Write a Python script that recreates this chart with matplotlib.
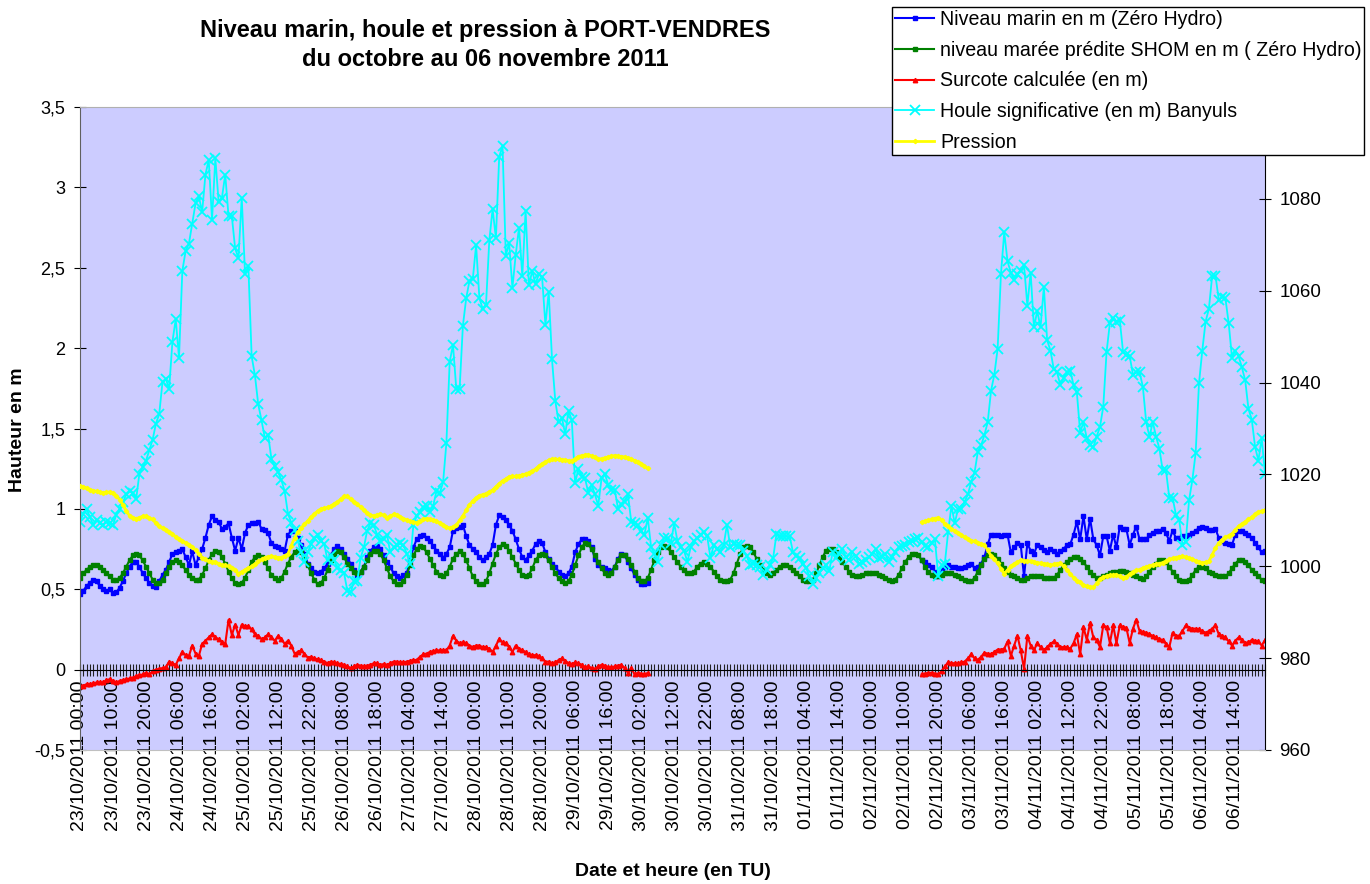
import numpy as np
import pandas as pd
import matplotlib
matplotlib.use("Agg")
import matplotlib.pyplot as plt
from matplotlib.ticker import FuncFormatter

plt.rcParams['font.family'] = ['Liberation Sans', 'DejaVu Sans']

# heures du 23/10/2011 00:00 au 06/11/2011 23:00 (pas horaire)
heures = pd.date_range("2011-10-23 00:00", periods=360, freq="h")
etiquettes = [h.strftime("%d/%m/%Y %H:%M") for h in heures]

# maree predite SHOM (m, zero hydro)
maree = [
    0.57, 0.60, 0.62, 0.64, 0.65, 0.65, 0.64, 0.62, 0.60, 0.58,
    0.56, 0.56, 0.57, 0.60, 0.64, 0.68, 0.71, 0.72, 0.71, 0.68,
    0.64, 0.60, 0.56, 0.54, 0.54, 0.56, 0.60, 0.64, 0.67, 0.68,
    0.67, 0.65, 0.62, 0.59, 0.57, 0.56, 0.56, 0.59, 0.63, 0.68,
    0.72, 0.74, 0.73, 0.70, 0.66, 0.61, 0.57, 0.54, 0.53, 0.54,
    0.57, 0.62, 0.67, 0.70, 0.71, 0.70, 0.67, 0.63, 0.59, 0.57,
    0.56, 0.57, 0.61, 0.66, 0.70, 0.73, 0.74, 0.73, 0.70, 0.65,
    0.60, 0.56, 0.53, 0.54, 0.57, 0.62, 0.68, 0.72, 0.74, 0.73,
    0.70, 0.66, 0.63, 0.61, 0.60, 0.61, 0.64, 0.68, 0.72, 0.74,
    0.74, 0.72, 0.68, 0.63, 0.58, 0.55, 0.53, 0.53, 0.55, 0.59,
    0.65, 0.71, 0.75, 0.77, 0.76, 0.73, 0.69, 0.65, 0.61, 0.59,
    0.58, 0.60, 0.64, 0.69, 0.72, 0.735, 0.72, 0.68, 0.63, 0.58,
    0.55, 0.53, 0.53, 0.55, 0.60, 0.66, 0.72, 0.76, 0.78, 0.77,
    0.74, 0.70, 0.66, 0.62, 0.59, 0.58, 0.59, 0.63, 0.68, 0.71,
    0.72, 0.71, 0.68, 0.64, 0.60, 0.57, 0.55, 0.54, 0.55, 0.59,
    0.65, 0.71, 0.76, 0.79, 0.78, 0.75, 0.71, 0.67, 0.63, 0.60,
    0.59, 0.60, 0.64, 0.68, 0.71, 0.71, 0.69, 0.65, 0.61, 0.57,
    0.55, 0.55, 0.57, 0.62, 0.68, 0.73, 0.76, 0.77, 0.76, 0.73,
    0.70, 0.67, 0.64, 0.62, 0.60, 0.60, 0.61, 0.64, 0.66, 0.67,
    0.66, 0.64, 0.61, 0.58, 0.56, 0.55, 0.55, 0.56, 0.60, 0.66,
    0.72, 0.76, 0.77, 0.76, 0.73, 0.69, 0.65, 0.62, 0.60, 0.59,
    0.60, 0.62, 0.64, 0.65, 0.65, 0.64, 0.62, 0.60, 0.58, 0.56,
    0.55, 0.55, 0.56, 0.60, 0.65, 0.70, 0.74, 0.75, 0.75, 0.73,
    0.70, 0.67, 0.64, 0.61, 0.59, 0.58, 0.58, 0.59, 0.60, 0.60,
    0.60, 0.60, 0.59, 0.58, 0.57, 0.56, 0.55, 0.56, 0.59, 0.63,
    0.67, 0.70, 0.72, 0.72, 0.71, 0.68, 0.64, 0.61, 0.59, 0.58,
    0.58, 0.59, 0.60, 0.60, 0.60, 0.59, 0.58, 0.57, 0.56, 0.55,
    0.55, 0.57, 0.61, 0.65, 0.69, 0.71, 0.72, 0.71, 0.69, 0.66,
    0.63, 0.61, 0.59, 0.58, 0.57, 0.56, 0.56, 0.57, 0.58, 0.58,
    0.58, 0.58, 0.57, 0.57, 0.57, 0.57, 0.59, 0.62, 0.65, 0.67,
    0.69, 0.70, 0.70, 0.69, 0.67, 0.64, 0.61, 0.59, 0.57, 0.57,
    0.58, 0.59, 0.60, 0.61, 0.61, 0.615, 0.615, 0.61, 0.60, 0.59,
    0.58, 0.57, 0.565, 0.58, 0.61, 0.64, 0.66, 0.68, 0.68, 0.67,
    0.64, 0.61, 0.58, 0.56, 0.55, 0.55, 0.56, 0.59, 0.62, 0.64,
    0.64, 0.63, 0.61, 0.60, 0.59, 0.58, 0.58, 0.58, 0.60, 0.63,
    0.66, 0.68, 0.68, 0.67, 0.65, 0.62, 0.60, 0.58, 0.56, 0.55,
]

# houle significative Banyuls (m)
houle = [
    0.92, 0.97, 1.00, 0.95, 0.90, 0.93, 0.91, 0.90, 0.92, 0.91,
    0.90, 0.965, 1.00, 1.04, 1.09, 1.11, 1.10, 1.06, 1.22, 1.26,
    1.30, 1.365, 1.43, 1.53, 1.59, 1.79, 1.81, 1.745, 2.04, 2.18,
    1.94, 2.48, 2.605, 2.65, 2.775, 2.90, 2.945, 2.845, 3.08, 3.17,
    2.80, 3.18, 2.91, 2.935, 3.08, 2.82, 2.82, 2.62, 2.56, 2.935,
    2.46, 2.51, 1.95, 1.83, 1.65, 1.55, 1.44, 1.46, 1.31, 1.265,
    1.23, 1.18, 1.11, 0.97, 0.915, 0.87, 0.80, 0.73, 0.67, 0.73,
    0.78, 0.82, 0.835, 0.80, 0.78, 0.68, 0.71, 0.68, 0.63, 0.62,
    0.60, 0.49, 0.48, 0.55, 0.55, 0.695, 0.76, 0.865, 0.91, 0.90,
    0.84, 0.80, 0.81, 0.84, 0.73, 0.76, 0.775, 0.785, 0.775, 0.72,
    0.66, 0.90, 0.955, 0.98, 1.01, 1.02, 0.98, 1.02, 1.11, 1.10,
    1.165, 1.41, 1.915, 2.02, 1.745, 1.745, 2.14, 2.31, 2.42, 2.43,
    2.64, 2.31, 2.245, 2.27, 2.67, 2.865, 2.685, 3.19, 3.26, 2.575,
    2.655, 2.375, 2.58, 2.75, 2.45, 2.855, 2.39, 2.48, 2.40, 2.46,
    2.44, 2.145, 2.35, 1.93, 1.67, 1.54, 1.565, 1.465, 1.61, 1.55,
    1.16, 1.25, 1.20, 1.19, 1.10, 1.15, 1.09, 1.02, 1.19, 1.22,
    1.15, 1.12, 1.12, 1.00, 1.03, 1.045, 1.09, 0.92, 0.91, 0.90,
    0.865, 0.84, 0.945, 0.765, 0.72, 0.67, 0.775, 0.82, 0.82, 0.785,
    0.91, 0.80, 0.765, 0.74, 0.67, 0.76, 0.80, 0.82, 0.84, 0.855,
    0.83, 0.695, 0.775, 0.75, 0.73, 0.775, 0.90, 0.765, 0.78, 0.775,
    0.775, 0.74, 0.705, 0.65, 0.66, 0.65, 0.64, 0.59, 0.62, 0.65,
    0.695, 0.845, 0.83, 0.83, 0.83, 0.83, 0.73, 0.705, 0.695, 0.66,
    0.63, 0.58, 0.535, 0.57, 0.60, 0.63, 0.65, 0.615, 0.73, 0.695,
    0.72, 0.75, 0.70, 0.68, 0.73, 0.705, 0.66, 0.67, 0.68, 0.70,
    0.72, 0.75, 0.695, 0.70, 0.72, 0.67, 0.70, 0.73, 0.76, 0.77,
    0.775, 0.795, 0.80, 0.81, 0.82, 0.795, 0.77, 0.76, 0.785, 0.81,
    0.58, 0.65, 0.66, 0.855, 1.02, 0.91, 1.00, 1.00, 1.045, 1.09,
    1.17, 1.225, 1.355, 1.395, 1.46, 1.54, 1.735, 1.835, 1.995, 2.46,
    2.72, 2.54, 2.47, 2.425, 2.46, 2.48, 2.515, 2.265, 2.47, 2.13,
    2.23, 2.13, 2.38, 2.05, 1.985, 1.87, 1.85, 1.77, 1.815, 1.85,
    1.86, 1.77, 1.725, 1.475, 1.54, 1.44, 1.40, 1.385, 1.45, 1.51,
    1.635, 1.975, 2.155, 2.19, 2.165, 2.175, 1.975, 1.96, 1.95, 1.835,
    1.85, 1.85, 1.76, 1.54, 1.45, 1.54, 1.45, 1.375, 1.24, 1.24,
    1.07, 1.07, 0.965, 0.93, 0.775, 0.795, 1.055, 1.18, 1.35, 1.78,
    1.985, 2.165, 2.245, 2.45, 2.45, 2.30, 2.32, 2.31, 2.155, 1.94,
    1.985, 1.95, 1.88, 1.80, 1.62, 1.555, 1.385, 1.30, 1.44, 1.22,
]

# niveau marin mesure (m) : avant et apres la coupure du maregraphe
niveau_debut = [
    0.47, 0.49, 0.52, 0.54, 0.56, 0.55, 0.52, 0.50, 0.49, 0.50,
    0.475, 0.48, 0.51, 0.55, 0.60, 0.64, 0.67, 0.67, 0.64, 0.60,
    0.57, 0.54, 0.52, 0.515, 0.55, 0.59, 0.62, 0.67, 0.72, 0.73,
    0.74, 0.75, 0.70, 0.65, 0.735, 0.65, 0.70, 0.75, 0.82, 0.90,
    0.955, 0.93, 0.92, 0.875, 0.89, 0.91, 0.82, 0.74, 0.82, 0.75,
    0.85, 0.90, 0.91, 0.91, 0.92, 0.875, 0.87, 0.85, 0.785, 0.77,
    0.76, 0.75, 0.74, 0.84, 0.86, 0.865, 0.82, 0.775, 0.72, 0.66,
    0.63, 0.61, 0.60, 0.61, 0.63, 0.66, 0.71, 0.75, 0.77, 0.75,
    0.72, 0.69, 0.66, 0.62, 0.59, 0.61, 0.64, 0.70, 0.74, 0.76,
    0.77, 0.75, 0.71, 0.67, 0.64, 0.60, 0.58, 0.57, 0.59, 0.60,
    0.68, 0.76, 0.81, 0.83, 0.835, 0.82, 0.80, 0.77, 0.74, 0.72,
    0.695, 0.72, 0.76, 0.865, 0.88, 0.89, 0.90, 0.83, 0.775, 0.75,
    0.73, 0.70, 0.68, 0.70, 0.72, 0.775, 0.90, 0.96, 0.95, 0.93,
    0.90, 0.865, 0.81, 0.75, 0.70, 0.68, 0.71, 0.74, 0.78, 0.80,
    0.79, 0.73, 0.69, 0.66, 0.64, 0.61, 0.59, 0.58, 0.60, 0.64,
    0.73, 0.78, 0.81, 0.81, 0.80, 0.76, 0.69, 0.65, 0.64, 0.63,
    0.62, 0.615, 0.64, 0.69, 0.72, 0.71, 0.67, 0.63, 0.59, 0.56,
    0.535, 0.535, 0.54,
]
niveau_fin = [
    0.68, 0.67, 0.65, 0.64, 0.61,
    0.58, 0.62, 0.64, 0.65, 0.64, 0.64, 0.63, 0.63, 0.64, 0.65,
    0.66, 0.63, 0.64, 0.66, 0.70, 0.78, 0.84, 0.84, 0.84, 0.83,
    0.84, 0.84, 0.73, 0.76, 0.785, 0.775, 0.58, 0.785, 0.74, 0.72,
    0.775, 0.76, 0.745, 0.73, 0.75, 0.74, 0.72, 0.74, 0.75, 0.775,
    0.78, 0.84, 0.92, 0.81, 0.955, 0.81, 0.94, 0.81, 0.775, 0.71,
    0.83, 0.83, 0.74, 0.84, 0.76, 0.89, 0.875, 0.875, 0.775, 0.84,
    0.89, 0.81, 0.81, 0.81, 0.84, 0.85, 0.86, 0.865, 0.875, 0.85,
    0.80, 0.865, 0.82, 0.82, 0.83, 0.83, 0.84, 0.85, 0.865, 0.88,
    0.89, 0.88, 0.87, 0.87, 0.875, 0.82, 0.80, 0.785, 0.78, 0.775,
    0.84, 0.865, 0.865, 0.85, 0.84, 0.82, 0.79, 0.76, 0.73, 0.74,
]

# surcote calculee (m)
surcote_debut = [
    -0.10, -0.10, -0.09, -0.09, -0.085, -0.08, -0.08, -0.08, -0.065, -0.06,
    -0.07, -0.08, -0.07, -0.065, -0.06, -0.055, -0.05, -0.04, -0.035, -0.03,
    -0.02, -0.03, -0.01, 0.0, 0.005, 0.01, 0.015, 0.05, 0.04, 0.03,
    0.07, 0.11, 0.09, 0.085, 0.15, 0.10, 0.085, 0.16, 0.18, 0.20,
    0.22, 0.20, 0.19, 0.17, 0.16, 0.31, 0.215, 0.28, 0.215, 0.28,
    0.27, 0.27, 0.25, 0.22, 0.21, 0.19, 0.20, 0.22, 0.20, 0.18,
    0.21, 0.19, 0.16, 0.18, 0.15, 0.10, 0.11, 0.12, 0.10, 0.075,
    0.08, 0.07, 0.065, 0.06, 0.05, 0.04, 0.05, 0.045, 0.04, 0.035,
    0.03, 0.02, 0.01, 0.02, 0.03, 0.025, 0.02, 0.025, 0.03, 0.04,
    0.04, 0.03, 0.035, 0.03, 0.04, 0.05, 0.05, 0.045, 0.045, 0.05,
    0.055, 0.06, 0.06, 0.08, 0.095, 0.10, 0.11, 0.115, 0.12, 0.12,
    0.12, 0.12, 0.15, 0.21, 0.18, 0.165, 0.17, 0.165, 0.15, 0.14,
    0.15, 0.15, 0.14, 0.14, 0.13, 0.11, 0.15, 0.19, 0.17, 0.165,
    0.14, 0.11, 0.15, 0.13, 0.12, 0.11, 0.095, 0.09, 0.09, 0.085,
    0.07, 0.05, 0.05, 0.04, 0.045, 0.06, 0.07, 0.055, 0.04, 0.035,
    0.045, 0.04, 0.03, 0.015, 0.02, 0.01, 0.005, 0.02, 0.03, 0.025,
    0.015, 0.015, 0.02, 0.025, 0.03, 0.01, -0.02, 0.01, -0.03, -0.02,
    -0.025, -0.03, -0.02,
]
surcote_fin = [
    -0.03, -0.025, -0.02, -0.02, -0.025,
    -0.03, -0.01, 0.02, 0.045, 0.04, 0.04, 0.04, 0.045, 0.05, 0.07,
    0.095, 0.07, 0.06, 0.08, 0.105, 0.10, 0.095, 0.11, 0.125, 0.125,
    0.13, 0.175, 0.085, 0.15, 0.21, 0.12, 0.005, 0.21, 0.15, 0.12,
    0.165, 0.14, 0.12, 0.14, 0.16, 0.175, 0.16, 0.14, 0.14, 0.14,
    0.13, 0.165, 0.22, 0.095, 0.265, 0.185, 0.29, 0.20, 0.185, 0.14,
    0.275, 0.265, 0.165, 0.275, 0.165, 0.275, 0.265, 0.26, 0.165, 0.255,
    0.31, 0.24, 0.235, 0.23, 0.22, 0.21, 0.20, 0.19, 0.185, 0.16,
    0.14, 0.23, 0.21, 0.21, 0.24, 0.275, 0.26, 0.255, 0.255, 0.25,
    0.24, 0.23, 0.24, 0.255, 0.275, 0.22, 0.21, 0.20, 0.175, 0.15,
    0.18, 0.20, 0.185, 0.165, 0.17, 0.185, 0.18, 0.175, 0.15, 0.185,
]

# pression atmospherique (hPa)
pression_debut = [
    1017.5, 1017.3, 1017.0, 1016.7, 1016.5, 1016.3, 1016.1, 1016.0, 1016.1, 1016.2,
    1015.9, 1015.4, 1014.5, 1013.4, 1012.1, 1011.0, 1010.5, 1010.4, 1010.6, 1010.9,
    1010.9, 1010.5, 1010.2, 1009.4, 1008.7, 1008.3, 1007.9, 1007.5, 1007.0, 1006.4,
    1005.9, 1005.5, 1005.1, 1004.7, 1004.1, 1003.5, 1002.7, 1001.9, 1001.5, 1001.1,
    1001.0, 1000.9, 1000.6, 1000.3, 1000.2, 1000.0, 999.6, 999.2, 998.4, 998.8,
    999.2, 999.6, 1000.0, 1000.5, 1001.1, 1001.5, 1001.9, 1002.1, 1002.2, 1002.0,
    1001.9, 1001.9, 1002.3, 1002.7, 1004.5, 1006.2, 1007.4, 1008.4, 1009.1, 1009.9,
    1010.7, 1011.4, 1012.0, 1012.5, 1012.6, 1012.8, 1013.1, 1013.6, 1014.0, 1014.6,
    1015.2, 1015.2, 1014.6, 1014.1, 1013.5, 1012.9, 1012.2, 1011.6, 1011.1, 1011.0,
    1011.2, 1011.4, 1011.1, 1010.6, 1010.9, 1011.3, 1011.2, 1010.8, 1010.4, 1010.1,
    1009.8, 1009.6, 1009.5, 1009.9, 1010.2, 1010.4, 1010.2, 1010.0, 1009.8, 1009.4,
    1009.0, 1008.6, 1008.3, 1008.6, 1009.0, 1010.0, 1011.0, 1012.2, 1013.4, 1014.2,
    1014.9, 1015.4, 1015.6, 1015.8, 1016.2, 1016.6, 1017.3, 1018.0, 1018.6, 1019.0,
    1019.5, 1019.6, 1019.6, 1019.7, 1019.9, 1020.1, 1020.4, 1020.7, 1021.2, 1021.8,
    1022.3, 1022.7, 1023.1, 1023.3, 1023.3, 1023.3, 1023.2, 1023.1, 1023.0, 1022.9,
    1023.4, 1023.9, 1024.1, 1024.2, 1024.3, 1024.0, 1023.7, 1023.4, 1023.4, 1023.6,
    1023.8, 1024.0, 1024.1, 1024.0, 1023.9, 1023.8, 1023.6, 1023.3, 1023.0, 1022.7,
    1022.3, 1021.8, 1021.3,
]
pression_fin = [
    1009.6, 1009.8, 1010.0, 1010.2, 1010.4,
    1010.6, 1010.0, 1009.3, 1008.7, 1008.2, 1007.7, 1007.2, 1006.8, 1006.3, 1005.9,
    1005.6, 1005.4, 1005.1, 1004.9, 1004.7, 1003.5, 1002.3, 1001.5, 1000.7, 999.5,
    998.4, 999.2, 1000.0, 1000.5, 1000.9, 1001.3, 1001.2, 1001.2, 1001.1, 1001.0,
    1000.8, 1000.7, 1000.6, 1000.4, 1000.3, 1000.4, 1000.6, 1000.7, 1000.0, 999.2,
    998.4, 997.5, 996.9, 996.5, 996.0, 995.6, 995.5, 995.4, 996.3, 997.2,
    997.6, 997.9, 998.0, 998.1, 998.2, 997.8, 997.5, 997.7, 998.3, 998.8,
    999.1, 999.3, 999.6, 999.9, 1000.1, 1000.3, 1000.5, 1000.6, 1000.8, 1001.1,
    1001.5, 1001.7, 1001.9, 1002.1, 1002.2, 1002.0, 1001.7, 1001.5, 1001.2, 1000.9,
    1000.7, 1000.9, 1001.1, 1002.5, 1004.0, 1005.1, 1005.8, 1006.3, 1006.7, 1007.1,
    1007.9, 1008.7, 1009.2, 1009.7, 1010.2, 1010.7, 1011.3, 1011.8, 1012.0, 1012.2,
]


def serie_complete(debut, fin, n=360):
    # les heures sans mesure restent vides (coupure de la courbe)
    s = np.full(n, np.nan)
    s[:len(debut)] = debut
    s[n - len(fin):] = fin
    return s


x = np.arange(len(heures))
niveau = serie_complete(niveau_debut, niveau_fin)
surcote = serie_complete(surcote_debut, surcote_fin)
pression = serie_complete(pression_debut, pression_fin)

W, H = 1370, 884
fig = plt.figure(figsize=(W / 100, H / 100), dpi=100)
fig.patch.set_facecolor('white')
ax = fig.add_axes([80 / W, 1 - 750 / H, 1185 / W, 643 / H])
ax.set_facecolor('#CCCCFF')

l1, = ax.plot(x, niveau, color='#0000FF', lw=1.5, marker='s', ms=3.2, label='Niveau marin en m (Zéro Hydro)')
l2, = ax.plot(x, maree, color='#008000', lw=1.5, marker='s', ms=3.2, label='niveau marée prédite SHOM en m ( Zéro Hydro)')
l3, = ax.plot(x, surcote, color='#FF0000', lw=1.5, marker='^', ms=3.2, label='Surcote calculée (en m)')
l4, = ax.plot(x, houle, color='#00FFFF', lw=1.3, marker='x', ms=7, mew=1.3, label='Houle significative (en m) Banyuls')

ax2 = ax.twinx()
l5, = ax2.plot(x, pression, color='#FFFF00', lw=2, marker='D', ms=2.2, label='Pression')

ax.set_xlim(0, 359)
ax.set_ylim(-0.5, 3.5)
ax.set_yticks(np.arange(-0.5, 3.51, 0.5))
ax.yaxis.set_major_formatter(FuncFormatter(lambda v, p: f"{v:g}".replace('.', ',')))
ax2.set_ylim(960, 1100)
ax2.set_yticks(np.arange(960, 1101, 20))

# axe des dates place sur le zero, une graduation par heure
ax.spines['bottom'].set_position(('data', 0))
ax.spines['bottom'].set_color('black')
ax.set_xticks(x[::10])
ax.set_xticklabels(etiquettes[::10], rotation=90, fontsize=14)
ax.set_xticks(x, minor=True)
ax.tick_params(axis='x', which='both', direction='inout', length=9, width=0.8, color='#222222', pad=3)
ax.tick_params(axis='y', direction='inout', length=9, width=0.8, labelsize=13, pad=6)
ax2.tick_params(axis='y', direction='inout', length=9, width=0.8, labelsize=13.5, pad=6)

ax.spines['left'].set_color('#606060')
ax.spines['top'].set_visible(False)
ax.spines['right'].set_visible(False)
ax2.spines['left'].set_visible(False)
ax2.spines['top'].set_color('#B0B0B0')
ax2.spines['bottom'].set_color('#C0C0C0')
ax2.spines['right'].set_color('black')

fig.text(485 / W, 1 - 31 / H, 'Niveau marin, houle et pression à PORT-VENDRES',
         ha='center', va='center', fontsize=17, weight='bold')
fig.text(485 / W, 1 - 59 / H, 'du octobre au 06 novembre 2011',
         ha='center', va='center', fontsize=17, weight='bold')
fig.text(18 / W, 1 - 430 / H, 'Hauteur en m', rotation=90, ha='center', va='center',
         fontsize=14, weight='bold')
fig.text(673 / W, 1 - 872 / H, 'Date et heure (en TU)', ha='center', va='center',
         fontsize=14, weight='bold')

lignes = [l1, l2, l3, l4, l5]
leg = fig.legend(lignes, [l.get_label() for l in lignes],
                 loc='upper left', bbox_to_anchor=(892 / W, 1 - 7 / H), fontsize=14.1,
                 frameon=True, fancybox=False, framealpha=1, edgecolor='black',
                 borderpad=0.15, borderaxespad=0, handlelength=2.0, handletextpad=0.3,
                 labelspacing=0.6)
leg.get_frame().set_linewidth(1.0)

fig.savefig('out.png', dpi=100)
